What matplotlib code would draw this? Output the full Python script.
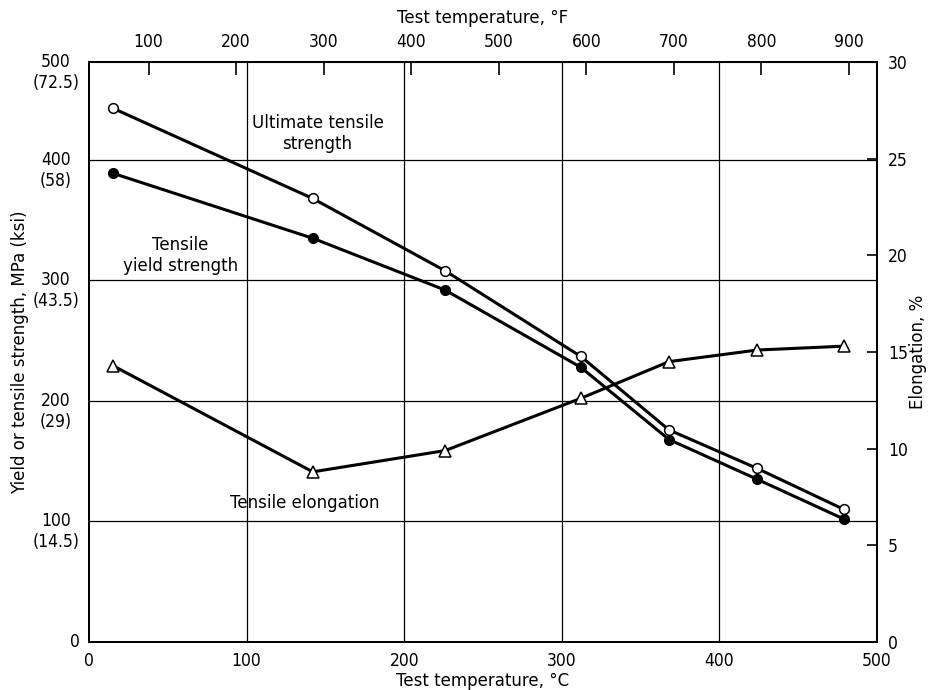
#tensile properties vs test temperature, two y axes and a deg F axis on top

import matplotlib
matplotlib.use('Agg')
import matplotlib.pyplot as plt
import matplotlib.transforms as mtransforms
import numpy as ny

#data
temp_c = [15, 142, 226, 312, 368, 424, 479]
uts_mpa = [443, 368, 308, 237, 176, 144, 110]
ys_mpa = [389, 335, 292, 228, 168, 135, 102]
elong_pct = [14.3, 8.8, 9.9, 12.6, 14.5, 15.1, 15.3]

mpa_ticks = [100, 200, 300, 400]
ksi_labels = ['(14.5)', '(29)', '(43.5)', '(58)']
f_ticks = [100, 200, 300, 400, 500, 600, 700, 800, 900]

plt.rcParams['font.family'] = ['DejaVu Sans']
num = dict(fontsize=12.5, family='DejaVu Sans', stretch='condensed')

fig = plt.figure(figsize=(9.3, 6.9), dpi=100)
ax = fig.add_axes([0.0957, 0.0696, 0.8473, 0.8406])

ymax = 481.3  #top of the frame carries the "500" label in the original
ax.set_xlim(0, 500)
ax.set_ylim(0, ymax)

#grid
for v in [100, 200, 300, 400]:
    ax.axvline(v, color='black', lw=0.9, zorder=1)
for v in mpa_ticks:
    ax.axhline(v, color='black', lw=0.9, zorder=1)

ax.plot(temp_c, uts_mpa, 'k-', lw=2.2, marker='o', ms=7, mfc='white', mec='black', mew=1.1, zorder=4)
ax.plot(temp_c, ys_mpa, 'k-', lw=2.2, marker='o', ms=7, mfc='black', mec='black', zorder=4)

ax2 = ax.twinx()
ax2.set_ylim(0, 30)
ax2.plot(temp_c, elong_pct, 'k-', lw=2.2, marker='^', ms=8, mfc='white', mec='black', mew=1.1, zorder=4)

#left axis labels drawn by hand (MPa with ksi below)
ax.set_yticks([])
trans = mtransforms.blended_transform_factory(ax.transAxes, ax.transData)
ax.text(-0.012, 0, '0', transform=trans, ha='right', va='center', **num)
for v, k in zip(mpa_ticks, ksi_labels):
    ax.text(-0.042, v, str(v), transform=trans, ha='center', va='center', **num)
    ax.annotate(k, xy=(-0.042, v), xycoords=trans, xytext=(0, -15), textcoords='offset points',
                ha='center', va='center', **num)
ax.text(-0.042, ymax, '500', transform=trans, ha='center', va='center', **num)
ax.annotate('(72.5)', xy=(-0.042, ymax), xycoords=trans, xytext=(0, -15), textcoords='offset points',
            ha='center', va='center', **num)

ax.set_xticks([0, 100, 200, 300, 400, 500])
ax.tick_params(axis='x', length=0, pad=7)
for t in ax.get_xticklabels():
    t.set_fontsize(12.5)
    t.set_stretch('condensed')

ax2.set_yticks([0, 5, 10, 15, 20, 25, 30])
ax2.tick_params(axis='y', direction='in', length=7, width=1.2, pad=8)
for t in ax2.get_yticklabels():
    t.set_fontsize(12.5)
    t.set_stretch('condensed')

#deg F on top
secax = ax.secondary_xaxis('top', functions=(lambda c: c * 9 / 5 + 32, lambda f: (f - 32) * 5 / 9))
secax.set_xticks(f_ticks)
secax.tick_params(direction='in', length=9, width=1.2, pad=8)
for t in secax.get_xticklabels():
    t.set_fontsize(12.5)
    t.set_stretch('condensed')
secax.set_xlabel('Test temperature, °F', fontsize=12, labelpad=7)

for a in (ax, ax2):
    for s in a.spines.values():
        s.set_linewidth(1.4)

ax.set_xlabel('Test temperature, °C', fontsize=12, labelpad=2)
ax.set_ylabel('Yield or tensile strength, MPa (ksi)', fontsize=12, ha='center', va='center')
ax.yaxis.set_label_coords(-0.0876, 0.5)
ax2.set_ylabel('Elongation, %', fontsize=12, rotation=90, ha='center', va='center')
ax2.yaxis.set_label_coords(1.052, 0.5)

#curve labels
ax.text(145, 422, 'Ultimate tensile\nstrength', ha='center', va='center', fontsize=12, linespacing=1.2)
ax.text(58, 321, 'Tensile\nyield strength', ha='center', va='center', fontsize=12, linespacing=1.2)
ax.text(137, 115, 'Tensile elongation', ha='center', va='center', fontsize=12)

fig.savefig('out.png', dpi=100)
